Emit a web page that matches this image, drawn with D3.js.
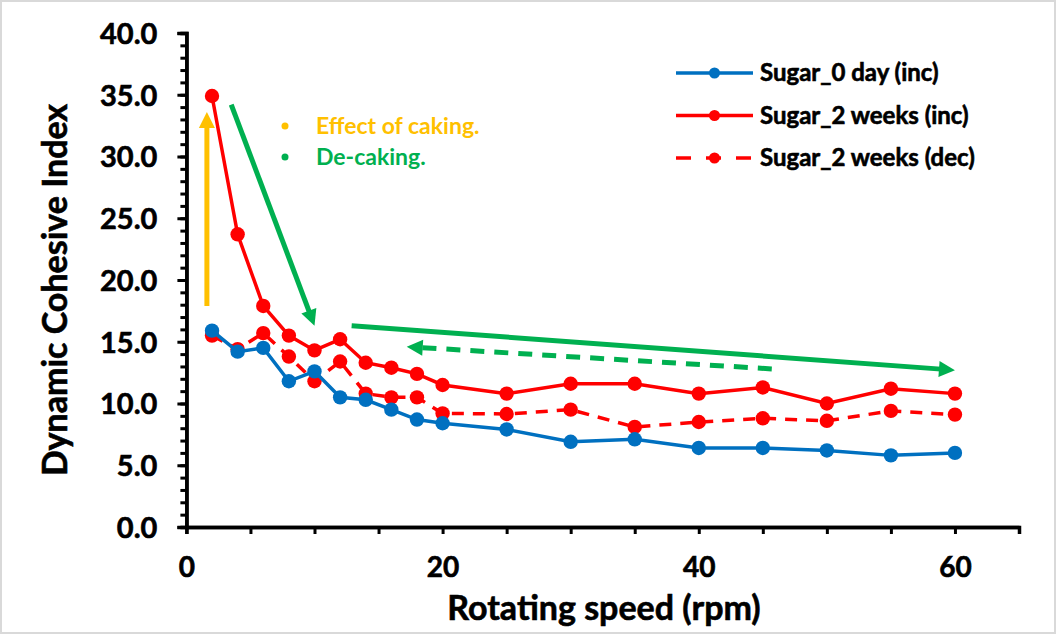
<!DOCTYPE html>
<html>
<head>
<meta charset="utf-8">
<script src="https://cdn.jsdelivr.net/npm/d3@7"></script>
<style>
  body { margin: 0; background: #fff; }
  svg { display: block; }
  text { font-family: Lato, "Open Sans", sans-serif; font-weight: 700; }
  .heavy { stroke: #000; stroke-width: 0.6px; }
</style>
</head>
<body>
<svg id="chart" width="1056" height="634"></svg>
<script>
// rotating speed (rpm)
var speeds = [2, 4, 6, 8, 10, 12, 14, 16, 18, 20, 25, 30, 35, 40, 45, 50, 55, 60];

// dynamic cohesive index
var sugar0dayInc = [15.9, 14.2, 14.5, 11.8, 12.6, 10.5, 10.3, 9.5, 8.7, 8.4, 7.9, 6.9, 7.1, 6.4, 6.4, 6.2, 5.8, 6.0];
var sugar2wkInc  = [34.9, 23.7, 17.9, 15.5, 14.3, 15.2, 13.3, 12.9, 12.4, 11.5, 10.8, 11.6, 11.6, 10.8, 11.3, 10.0, 11.2, 10.8];
var sugar2wkDec  = [15.5, 14.4, 15.7, 13.8, 11.8, 13.4, 10.8, 10.5, 10.5, 9.2, 9.15, 9.5, 8.1, 8.5, 8.8, 8.6, 9.4, 9.1];

var seriesNames = ['Sugar_0 day (inc)', 'Sugar_2 weeks (inc)', 'Sugar_2 weeks (dec)'];
var seriesColors = ['#0070C0', '#FF0000', '#FF0000'];

var yTickLabels = ['0.0', '5.0', '10.0', '15.0', '20.0', '25.0', '30.0', '35.0', '40.0'];
var xTickLabels = ['0', '20', '40', '60'];

// annotation arrows in data units (tip at "to")
var annoArrows = [
  { from: [1.6, 17.9], to: [1.6, 33.6], color: '#FFC000', dashed: false },
  { from: [3.5, 34.2], to: [10.0, 16.3], color: '#00B050', dashed: false },
  { from: [12.9, 16.3], to: [60.0, 12.7], color: '#00B050', dashed: false },
  { from: [45.7, 12.8], to: [17.2, 14.6], color: '#00B050', dashed: true }
];
var annoNotes = ['Effect of caking.', 'De-caking.'];
var annoColors = ['#FFC000', '#00B050'];

var svg = d3.select('#chart');

// light grey frame round the picture
svg.append('rect').attr('x', 1).attr('y', 1).attr('width', 1054).attr('height', 632)
  .attr('fill', '#fff').attr('stroke', '#d9d9d9').attr('stroke-width', 2);

var margin = { left: 186.4, top: 33, right: 1019, bottom: 527 };

var x = d3.scaleLinear().domain([0, 65]).range([margin.left, margin.right]);
var y = d3.scaleLinear().domain([0, 40]).range([margin.bottom, margin.top]);

// y axis: minor ticks every 1, labelled every 5
var yAxisG = svg.append('g').attr('transform', 'translate(' + margin.left + ',0)');
yAxisG.call(d3.axisLeft(y).tickValues(d3.range(0, 41, 1)).tickSize(6).tickFormat(''));
yAxisG.append('g').call(d3.axisLeft(y).tickValues(d3.range(0, 41, 5)).tickSize(9)
  .tickFormat(function(d, i) { return yTickLabels[i]; }));
yAxisG.selectAll('path.domain').attr('stroke', '#000').attr('stroke-width', 3.5);
yAxisG.selectAll('line').attr('stroke', '#000').attr('stroke-width', 3);
yAxisG.selectAll('text').attr('fill', '#000').attr('class', 'heavy')
  .style('font-size', '29px').attr('x', -29).attr('dy', '0.36em');

// x axis: ticks every 5, labels at 0/20/40/60
var xAxisG = svg.append('g').attr('transform', 'translate(0,' + margin.bottom + ')');
xAxisG.call(d3.axisBottom(x).tickValues(d3.range(0, 66, 5)).tickSize(7).tickFormat(''));
xAxisG.append('g').call(d3.axisBottom(x).tickValues([0, 20, 40, 60]).tickSize(0)
  .tickFormat(function(d, i) { return xTickLabels[i]; }));
xAxisG.selectAll('path.domain').attr('stroke', '#000').attr('stroke-width', 3.5);
xAxisG.selectAll('line').attr('stroke', '#000').attr('stroke-width', 3);
xAxisG.selectAll('text').attr('fill', '#000').attr('class', 'heavy')
  .style('font-size', '28px').attr('y', 30).attr('dy', '0.71em');

// axis titles
svg.append('text').attr('class', 'heavy').attr('x', 604).attr('y', 620).attr('text-anchor', 'middle')
  .style('font-size', '34px').text('Rotating speed (rpm)');
svg.append('text').attr('class', 'heavy').attr('transform', 'translate(67,290) rotate(-90)')
  .attr('text-anchor', 'middle').style('font-size', '34px').text('Dynamic Cohesive Index');

// arrow annotations
function arrowHead(x1, y1, x2, y2, len, half) {
  var a = Math.atan2(y2 - y1, x2 - x1);
  var bx = x2 - len * Math.cos(a), by = y2 - len * Math.sin(a);
  var px = -Math.sin(a) * half, py = Math.cos(a) * half;
  return [[x2, y2], [bx + px, by + py], [bx - px, by - py]];
}
annoArrows.forEach(function(d) {
  var x1 = x(d.from[0]), y1 = y(d.from[1]), x2 = x(d.to[0]), y2 = y(d.to[1]);
  var a = Math.atan2(y2 - y1, x2 - x1);
  var head = arrowHead(x1, y1, x2, y2, 16, 8);
  svg.append('line')
    .attr('x1', x1).attr('y1', y1)
    .attr('x2', x2 - 14 * Math.cos(a)).attr('y2', y2 - 14 * Math.sin(a))
    .attr('stroke', d.color).attr('stroke-width', 5)
    .attr('stroke-dasharray', d.dashed ? '14,10' : null);
  svg.append('polygon').attr('points', head.map(function(p) { return p.join(','); }).join(' '))
    .attr('fill', d.color);
});

// bullet notes
annoNotes.forEach(function(t, i) {
  var g = svg.append('g').attr('transform', 'translate(285,' + (126 + i * 31) + ')');
  g.append('circle').attr('r', 3.5).attr('fill', annoColors[i]);
  g.append('text').attr('x', 31).attr('dy', '0.35em').attr('fill', annoColors[i])
    .style('font-size', '23px').text(t);
});

// series
var seriesData = [sugar0dayInc, sugar2wkInc, sugar2wkDec];
var line = d3.line().x(function(d) { return x(d[0]); }).y(function(d) { return y(d[1]); });

[2, 0, 1].forEach(function(k) {
  var pts = speeds.map(function(s, i) { return [s, seriesData[k][i]]; });
  var g = svg.append('g');
  g.append('path').datum(pts).attr('d', line)
    .attr('fill', 'none').attr('stroke', seriesColors[k]).attr('stroke-width', 3.5)
    .attr('stroke-dasharray', k === 2 ? '12,9' : null);
  g.selectAll('circle').data(pts).join('circle')
    .attr('cx', function(d) { return x(d[0]); })
    .attr('cy', function(d) { return y(d[1]); })
    .attr('r', 7.2).attr('fill', seriesColors[k]);
});

// legend
var legend = svg.append('g').attr('transform', 'translate(676,73)');
seriesNames.forEach(function(name, i) {
  var row = legend.append('g').attr('transform', 'translate(0,' + i * 42.5 + ')');
  row.append('line').attr('x1', 0).attr('x2', 77).attr('y1', 0).attr('y2', 0)
    .attr('stroke', seriesColors[i]).attr('stroke-width', 3.5)
    .attr('stroke-dasharray', i === 2 ? '15,15' : null);
  row.append('circle').attr('cx', 38.5).attr('cy', 0).attr('r', 5.5).attr('fill', seriesColors[i]);
  row.append('text').attr('class', 'heavy').attr('x', 84).attr('dy', '0.35em')
    .style('font-size', '24px').text(name);
});
</script>
</body>
</html>
